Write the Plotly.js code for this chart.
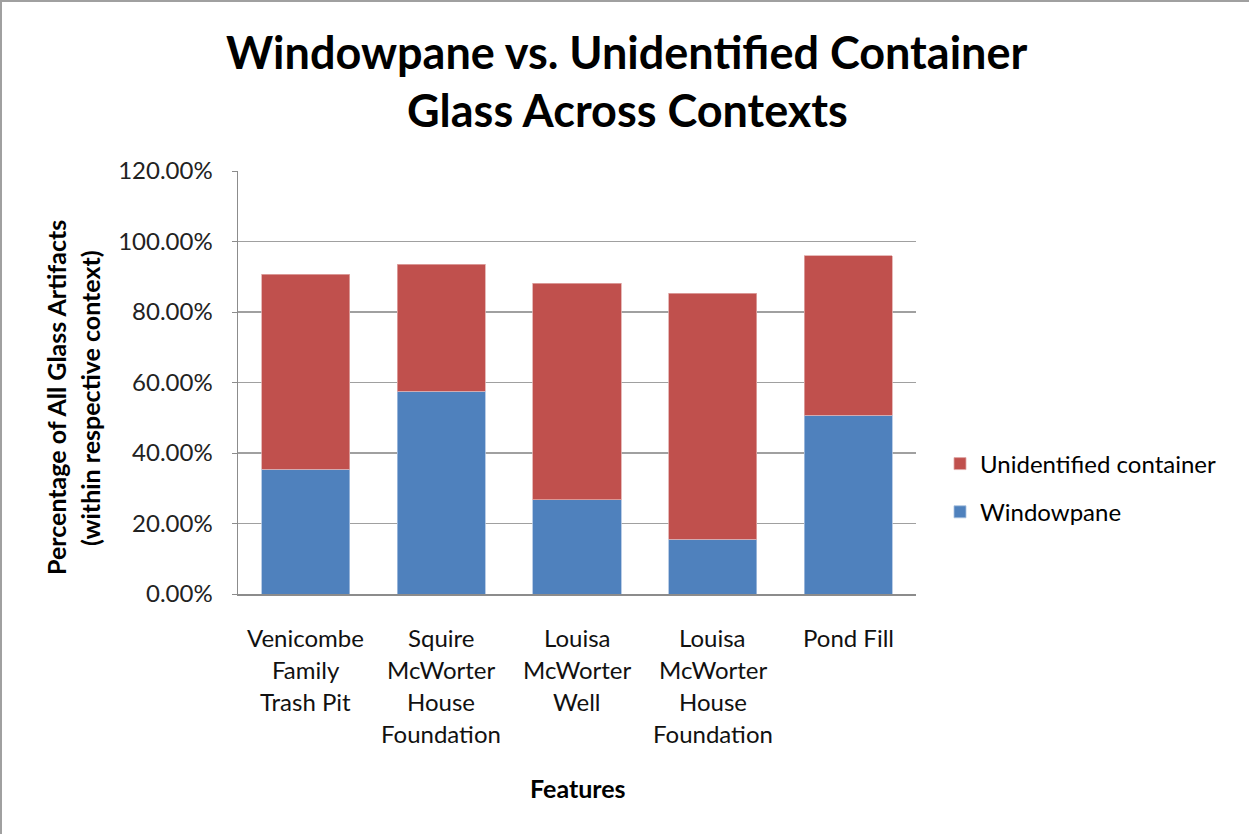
<!DOCTYPE html>
<html>
<head>
<meta charset="utf-8">
<script src="https://cdn.plot.ly/plotly-3.0.1.min.js"></script>
<style>
  html, body { margin: 0; padding: 0; background: #fff; }
  #wrap { width: 1249px; height: 834px; box-sizing: border-box; border-top: 2px solid #a0a0a0; border-left: 2px solid #a0a0a0; overflow: hidden; }
  #chart { width: 1247px; height: 832px; }
</style>
</head>
<body>
<div id="wrap"><div id="chart"></div></div>
<script>
// ---- data ----
const categories = [
  "Venicombe Family Trash Pit",
  "Squire McWorter House Foundation",
  "Louisa McWorter Well",
  "Louisa McWorter House Foundation",
  "Pond Fill"
];
const categoryLines = [
  ["Venicombe", "Family", "Trash Pit"],
  ["Squire", "McWorter", "House", "Foundation"],
  ["Louisa", "McWorter", "Well"],
  ["Louisa", "McWorter", "House", "Foundation"],
  ["Pond Fill"]
];
const windowpane = [35.4, 57.5, 26.7, 15.5, 50.7];
const unidentified = [55.3, 36.0, 61.4, 69.8, 45.3];
const yTicks = [0, 20, 40, 60, 80, 100, 120];
const titleLines = ["Windowpane vs. Unidentified Container", "Glass Across Contexts"];
const yTitleLines = ["Percentage of All Glass Artifacts", "(within respective context)"];
const xTitle = "Features";
const seriesNames = ["Windowpane", "Unidentified container"];

// ---- layout helpers (pixel -> paper) ----
const OFF = 2; // border offset
const L = 238 - OFF, R = 916 - OFF, T = 171 - OFF, B = 594 - OFF;
const W = 1247, H = 832;
const px = x => ((x - OFF) - L) / (R - L);
const py = y => (B - (y - OFF)) / (B - T);

const FONT = "Lato, 'Open Sans', sans-serif";
const annotations = [];

titleLines.forEach((t, i) => {
  annotations.push({
    text: "<b>" + t + "</b>", xref: "paper", yref: "paper",
    x: px(627), y: py(i === 0 ? 52 : 110), xanchor: "center", yanchor: "middle",
    showarrow: false, font: { family: FONT, size: 45, color: "#000" }
  });
});

yTitleLines.forEach((t, i) => {
  annotations.push({
    text: "<b>" + t + "</b>", xref: "paper", yref: "paper",
    x: px(i === 0 ? 56 : 90), y: py(398), xanchor: "center", yanchor: "middle",
    textangle: -90, showarrow: false, font: { family: FONT, size: 25, color: "#000" }
  });
});

annotations.push({
  text: "<b>" + xTitle + "</b>", xref: "paper", yref: "paper",
  x: px(578), y: py(788), xanchor: "center", yanchor: "middle",
  showarrow: false, font: { family: FONT, size: 25, color: "#000" }
});

categoryLines.forEach((lines, ci) => {
  lines.forEach((ln, li) => {
    annotations.push({
      text: ln, xref: "x", yref: "paper", x: categories[ci],
      y: py(637 + li * 32.3), xanchor: "center", yanchor: "middle",
      showarrow: false, font: { family: FONT, size: 24, color: "#111" }
    });
  });
});

const traces = [
  { type: "bar", name: seriesNames[0], x: categories, y: windowpane,
    marker: { color: "#4F81BD", line: { color: "#a9c1e0", width: 0.8 } },
    legendgroup: "a", legendrank: 2, hoverinfo: "x+y" },
  { type: "bar", name: seriesNames[1], x: categories, y: unidentified,
    marker: { color: "#C0504D", line: { color: "#e0a9a8", width: 0.8 } },
    legendgroup: "b", legendrank: 1, hoverinfo: "x+y" }
];

const layout = {
  width: W, height: H,
  margin: { l: L, r: W - R, t: T, b: H - B, pad: 0 },
  paper_bgcolor: "#fff", plot_bgcolor: "#fff",
  barmode: "stack", bargap: 0.35,
  font: { family: FONT, size: 24, color: "#000" },
  xaxis: {
    type: "category", showticklabels: false, showgrid: false,
    showline: true, linecolor: "#8c8c8c", linewidth: 1.5,
    ticks: "", zeroline: false, fixedrange: true
  },
  yaxis: {
    range: [0, 120], tickvals: yTicks,
    ticktext: yTicks.map(v => v.toFixed(2) + "%"),
    showgrid: true, gridcolor: "#a0a0a0", gridwidth: 1.5,
    showline: true, linecolor: "#8c8c8c", linewidth: 1.5,
    ticks: "outside", ticklen: 5, tickcolor: "#8c8c8c",
    ticklabelstandoff: 14,
    zeroline: false, fixedrange: true,
    tickfont: { family: FONT, size: 24, color: "#222" }
  },
  showlegend: true,
  legend: {
    x: px(940), y: py(488), xanchor: "left", yanchor: "middle",
    traceorder: "grouped", tracegroupgap: 14,
    font: { family: FONT, size: 24, color: "#000" },
    bgcolor: "rgba(0,0,0,0)"
  },
  annotations: annotations
};

Plotly.newPlot("chart", traces, layout, { displayModeBar: false, staticPlot: true });
</script>
</body>
</html>
